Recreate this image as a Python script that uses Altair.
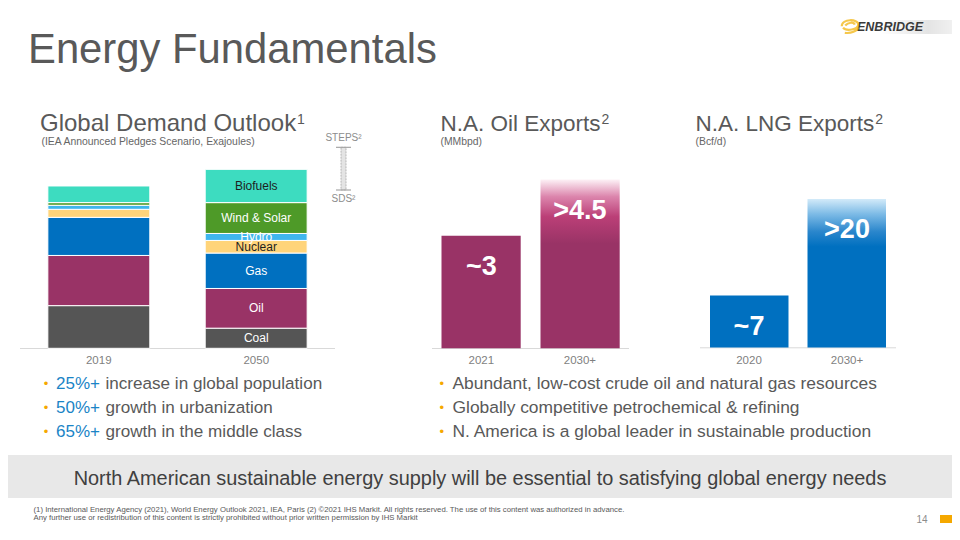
import altair as alt
import pandas as pd

# ---------------- data ----------------
sources = ["Coal", "Oil", "Gas", "Nuclear", "Hydro", "Wind & Solar", "Biofuels"]
demand_years = ["2019", "2050"]
demand_2019 = [159, 187, 142, 30, 15, 10, 62]
demand_2050 = [75, 148, 132, 47, 26, 115, 124]
steps_2050 = [749]
sds_2050 = [590]
source_colors = ["#555555", "#993366", "#0070c0", "#ffd47a", "#3fb6ee", "#4e9a28", "#3ddcc0"]

oil_years = ["2021", "2030+"]
oil_values = [3, 4.5]
oil_labels = ["~3", ">4.5"]

lng_years = ["2020", "2030+"]
lng_values = [7, 20]
lng_labels = ["~7", ">20"]

left_bullets_num = ["25%+", "50%+", "65%+"]
left_bullets_txt = ["increase in global population", "growth in urbanization", "growth in the middle class"]
right_bullets = ["Abundant, low-cost crude oil and natural gas resources",
                 "Globally competitive petrochemical & refining",
                 "N. America is a global leader in sustainable production"]

FONT = "Liberation Sans"
OFF = 8
W, H = 944, 524


def cx(x):
    return x - OFF


def cy(y):
    return y - OFF


layers = []


def one():
    return pd.DataFrame({"k": [0]})


def txt(s, x, y, size, color="#595959", align="left", baseline="alphabetic",
        weight="normal", italic=False):
    layers.append(
        alt.Chart(pd.DataFrame({"t": [s]})).mark_text(
            align=align, baseline=baseline, fontSize=size, color=color, font=FONT,
            fontWeight=weight, fontStyle="italic" if italic else "normal"
        ).encode(text="t:N", x=alt.value(cx(x)), y=alt.value(cy(y)))
    )


def rect(x1, x2, y1, y2, **kw):
    layers.append(
        alt.Chart(one()).mark_rect(**kw).encode(
            x=alt.value(cx(x1)), x2=alt.value(cx(x2)), y=alt.value(cy(y1)), y2=alt.value(cy(y2)))
    )


def hline(x1, x2, y, color="#d9d9d9", width=1):
    layers.append(
        alt.Chart(one()).mark_rule(color=color, strokeWidth=width).encode(
            x=alt.value(cx(x1)), x2=alt.value(cx(x2)), y=alt.value(cy(y)))
    )


# ---------------- background pieces ----------------
rect(0, 960, 455, 498, color="#e8e8e8")
rect(880, 960, 20, 34, fill=alt.Gradient(gradient="linear", x1=0, x2=1, y1=0, y2=0,
                                         stops=[alt.GradientStop(color="#ffffff", offset=0),
                                                alt.GradientStop(color="#e4e4e4", offset=0.6),
                                                alt.GradientStop(color="#f4f4f4", offset=1)]))
rect(940, 960, 515, 523, color="#f5a800")

# axis lines
hline(20, 335, 348.5)
hline(432, 629, 348.5)
hline(700, 896, 347.8)

# ---------------- global demand stacked bars ----------------
rows = []
for yr, vals in zip(demand_years, [demand_2019, demand_2050]):
    base = 0
    for s, v in zip(sources, vals):
        rows.append(dict(year=yr, source=s, lo=base, hi=base + v, mid=base + v / 2))
        base += v
dem = pd.DataFrame(rows)

PXD = 0.2683
d_x = alt.Scale(domain=demand_years, range=[cx(20), cx(335)], paddingInner=0.352, paddingOuter=0.177)
d_y = alt.Scale(domain=[0, 800], range=[cy(348.3), cy(348.3) - 800 * PXD], nice=False, zero=True)

layers.append(
    alt.Chart(dem).mark_bar(stroke="white", strokeWidth=1).encode(
        x=alt.X("year:N", scale=d_x, axis=None),
        y=alt.Y("lo:Q", scale=d_y, axis=None),
        y2="hi:Q",
        color=alt.Color("source:N", scale=alt.Scale(domain=sources, range=source_colors), legend=None),
    )
)
layers.append(
    alt.Chart(dem).transform_filter(alt.datum.year == "2050").mark_text(
        fontSize=12, font=FONT, baseline="middle"
    ).encode(
        x=alt.X("year:N", scale=d_x, axis=None),
        y=alt.Y("mid:Q", scale=d_y, axis=None),
        text="source:N",
        color=alt.condition(alt.FieldOneOfPredicate(field="source", oneOf=["Biofuels", "Nuclear"]),
                            alt.value("#1e1e1e"), alt.value("white")),
    )
)
layers.append(
    alt.Chart(pd.DataFrame({"year": demand_years})).mark_text(
        fontSize=11.5, font=FONT, color="#7f7f7f", baseline="middle"
    ).encode(x=alt.X("year:N", scale=d_x, axis=None), y=alt.value(cy(360.5)), text="year:N")
)

# STEPS / SDS range marker
mk = pd.DataFrame({"steps": steps_2050, "sds": sds_2050})
layers.append(
    alt.Chart(mk).mark_bar(fill="#e4e4e4", stroke="#a6a6a6", strokeDash=[2, 1], strokeWidth=0.8).encode(
        x=alt.value(cx(341)), x2=alt.value(cx(346)),
        y=alt.Y("steps:Q", scale=d_y, axis=None), y2="sds:Q")
)
for fld in ["steps", "sds"]:
    layers.append(
        alt.Chart(mk).mark_rule(color="#a6a6a6", strokeWidth=1.2).encode(
            x=alt.value(cx(336)), x2=alt.value(cx(351)),
            y=alt.Y(f"{fld}:Q", scale=d_y, axis=None))
    )
layers.append(
    alt.Chart(mk).mark_text(fontSize=10, font=FONT, color="#8c8c8c", baseline="middle", dy=-9).encode(
        x=alt.value(cx(343.5)), y=alt.Y("steps:Q", scale=d_y, axis=None), text=alt.value("STEPS²"))
)
layers.append(
    alt.Chart(mk).mark_text(fontSize=10, font=FONT, color="#8c8c8c", baseline="middle", dy=9).encode(
        x=alt.value(cx(343.5)), y=alt.Y("sds:Q", scale=d_y, axis=None), text=alt.value("SDS²"))
)


# ---------------- export bar charts ----------------
def export_chart(years, values, labels, xr, pin, pout, base, ppu, ymax, color, grad_stops):
    df = pd.DataFrame({"year": years, "value": values, "label": labels})
    sx = alt.Scale(domain=years, range=[cx(xr[0]), cx(xr[1])], paddingInner=pin, paddingOuter=pout)
    sy = alt.Scale(domain=[0, ymax], range=[cy(base), cy(base) - ymax * ppu], nice=False, zero=True)
    enc = dict(x=alt.X("year:N", scale=sx, axis=None), y=alt.Y("value:Q", scale=sy, axis=None))
    layers.append(alt.Chart(df).transform_filter(alt.datum.year == years[0])
                  .mark_bar(color=color).encode(**enc))
    layers.append(alt.Chart(df).transform_filter(alt.datum.year == years[1])
                  .mark_bar(fill=alt.Gradient(gradient="linear", x1=0, x2=0, y1=0, y2=1,
                                              stops=[alt.GradientStop(color=c, offset=o) for c, o in grad_stops]))
                  .encode(**enc))
    layers.append(alt.Chart(df).mark_text(color="white", fontSize=27, fontWeight="bold", font=FONT,
                                          baseline="middle", dy=31)
                  .encode(text="label:N", **enc))
    layers.append(alt.Chart(df).mark_text(fontSize=11.5, font=FONT, color="#7f7f7f", baseline="middle")
                  .encode(x=enc["x"], y=alt.value(cy(360.5)), text="year:N"))


export_chart(oil_years, oil_values, oil_labels, (432, 629.2), 0.2, 0.096, 348.3, 37.5, 5, "#993366",
             [("#fdf1f6", 0), ("#dc86ad", 0.1), ("#bb3f77", 0.22), ("#993366", 0.38), ("#993366", 1)])
export_chart(lng_years, lng_values, lng_labels, (700, 896), 0.195, 0.1026, 347.5, 7.42, 25, "#0070c0",
             [("#d2eaf9", 0), ("#7dbbe6", 0.1), ("#2a86cc", 0.22), ("#0070c0", 0.32), ("#0070c0", 1)])

# ---------------- texts ----------------
txt("Energy Fundamentals", 28, 62.7, 41.8)

txt("Global Demand Outlook", 40, 131, 24)
txt("1", 40 + 10.671 * 24 + 1, 124, 14)
txt("(IEA Announced Pledges Scenario, Exajoules)", 41.5, 144.5, 10.4, color="#666666")

txt("N.A. Oil Exports", 440.5, 131, 22.5)
txt("2", 440.5 + 7.113 * 22.5 + 1, 124, 14)
txt("(MMbpd)", 440.5, 144.5, 10.4, color="#666666")

txt("N.A. LNG Exports", 695.5, 131, 22.5)
txt("2", 695.5 + 7.947 * 22.5 + 1, 124, 14)
txt("(Bcf/d)", 695.5, 144.5, 10.4, color="#666666")

bl = [388.5, 412.5, 436.7]
for i in range(3):
    txt("•", 46, bl[i] - 1, 13, color="#f5a800", align="center")
    txt(left_bullets_num[i], 56, bl[i], 17, color="#1a84c6")
    txt(left_bullets_txt[i], 105.5, bl[i], 17.1)
    txt("•", 441.7, bl[i] - 1, 13, color="#f5a800", align="center")
    txt(right_bullets[i], 452.5, bl[i], 17.4)

txt("North American sustainable energy supply will be essential to satisfying global energy needs",
    480, 485, 19.9, color="#404040", align="center")

txt("(1) International Energy Agency (2021), World Energy Outlook 2021, IEA, Paris (2) \u00a92021 IHS Markit. "
    "All rights reserved. The use of this content was authorized in advance.", 33.5, 512, 7.75)
txt("Any further use or redistribution of this content is strictly prohibited without prior written "
    "permission by IHS Markit", 33.5, 520, 7.75)
txt("14", 922, 523, 10, color="#8c8c8c", align="center")

# logo
txt("ENBRIDGE", 857, 31, 12.5, color="#3a3a3a", weight="bold", italic=True)
swirl = ("M -0.95 0.15 C -0.95 -0.75, 0.95 -0.75, 0.95 -0.05 C 0.95 0.55, -0.45 0.75, -0.8 0.3 "
         "M -0.55 0.05 C -0.2 -0.35, 0.45 -0.35, 0.55 -0.05 M -0.6 0.9 C 0.1 1.0, 0.85 0.7, 1.0 0.25")
layers.append(
    alt.Chart(one()).mark_point(shape=swirl, filled=False, stroke="#f2b000", strokeWidth=2.2, size=300)
    .encode(x=alt.value(cx(850)), y=alt.value(cy(25)))
)

chart = alt.layer(*layers).resolve_scale(x="independent", y="independent", color="independent").properties(
    width=W, height=H, autosize=alt.AutoSizeParams(type="none"), padding=0, background="white"
).configure_view(stroke=None)

chart.save("out.html", embed_options={"renderer": "svg", "actions": False})
